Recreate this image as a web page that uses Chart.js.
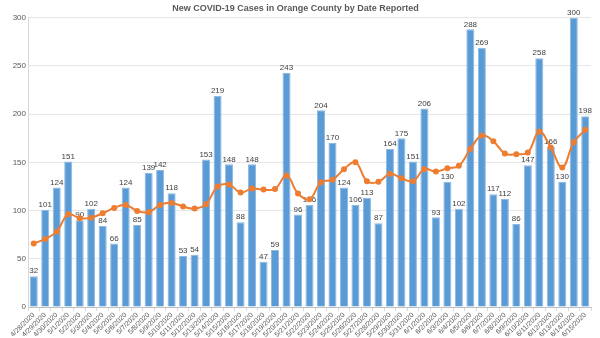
<!DOCTYPE html>
<html>
<head>
<meta charset="utf-8">
<script src="https://cdn.jsdelivr.net/npm/chart.js@4.4.1/dist/chart.umd.min.js"></script>
<style>
  html, body { margin: 0; padding: 0; background: #fff; }
</style>
</head>
<body>
<canvas id="casesChart" width="600" height="338"></canvas>
<script>
// Dates reported (x axis)
const reportDates = [
  '4/28/2020', '4/29/2020', '4/30/2020', '5/1/2020', '5/2/2020', '5/3/2020', '5/4/2020',
  '5/5/2020', '5/6/2020', '5/7/2020', '5/8/2020', '5/9/2020', '5/10/2020', '5/11/2020',
  '5/12/2020', '5/13/2020', '5/14/2020', '5/15/2020', '5/16/2020', '5/17/2020', '5/18/2020',
  '5/19/2020', '5/20/2020', '5/21/2020', '5/22/2020', '5/23/2020', '5/24/2020', '5/25/2020',
  '5/26/2020', '5/27/2020', '5/28/2020', '5/29/2020', '5/30/2020', '5/31/2020', '6/1/2020',
  '6/2/2020', '6/3/2020', '6/4/2020', '6/5/2020', '6/6/2020', '6/7/2020', '6/8/2020',
  '6/9/2020', '6/10/2020', '6/11/2020', '6/12/2020', '6/13/2020', '6/14/2020', '6/15/2020'
];

// New cases per day (bars)
const newCases = [
  32, 101, 124, 151, 90, 102, 84, 66, 124, 85, 139, 142, 118, 53,
  54, 153, 219, 148, 88, 148, 47, 59, 243, 96, 106, 204, 170, 124,
  106, 113, 87, 164, 175, 151, 206, 93, 130, 102, 288, 269, 117, 112,
  86, 147, 258, 166, 130, 300, 198
];

// Rolling average (orange line)
const rollingAvg = [
  66, 70.6, 78.2, 96.2, 92.1, 92.7, 97.3, 102.8, 105.9, 99.7, 98.3, 105.9, 108, 104.2,
  102.1, 106.6, 125, 127, 118.7, 122.9, 121.8, 122.5, 136.4, 117.7, 111.8, 129.5, 131.9, 143,
  150.2, 130.5, 129.8, 138.1, 133.6, 130.5, 143, 140.5, 144, 146.4, 164, 177.9, 172, 159.2,
  158.5, 160.2, 182, 165.4, 144.7, 171, 183.8
];

const yTicks = [0, 50, 100, 150, 200, 250, 300];

const fontFamily = '"Liberation Sans", Arial, sans-serif';

// Draw the value above each bar
const barLabels = {
  id: 'barLabels',
  afterDatasetDraw(chart, args) {
    if (args.index !== 0) return;
    const ctx = chart.ctx;
    ctx.save();
    ctx.font = '8px ' + fontFamily;
    ctx.fillStyle = '#404040';
    ctx.textAlign = 'center';
    ctx.textBaseline = 'bottom';
    args.meta.data.forEach((bar, i) => {
      ctx.fillText(newCases[i], bar.x, bar.y - 1);
    });
    ctx.restore();
  }
};

const chart = new Chart(document.getElementById('casesChart'), {
  type: 'bar',
  data: {
    labels: reportDates,
    datasets: [
      {
        type: 'bar',
        label: 'New Cases',
        data: newCases,
        backgroundColor: '#5B9BD5',
        borderColor: '#8DB9E3',
        borderWidth: 1,
        barPercentage: 0.7,
        categoryPercentage: 1,
        order: 2,
      },
      {
        type: 'line',
        label: 'Average',
        data: rollingAvg,
        borderColor: '#ED7D31',
        backgroundColor: '#ED7D31',
        borderWidth: 2,
        pointRadius: 2,
        pointHoverRadius: 2,
        tension: 0.4,
        fill: false,
        order: 1,
      },
    ],
  },
  options: {
    responsive: false,
    animation: false,
    layout: { padding: { left: 0, right: 9, top: 0, bottom: 0 } },
    plugins: {
      legend: { display: false },
      tooltip: { enabled: false },
      title: {
        display: true,
        text: 'New COVID-19 Cases in Orange County by Date Reported',
        color: '#595959',
        font: { family: fontFamily, size: 9, weight: 'bold' },
        padding: { top: 3, bottom: 4 },
      },
    },
    scales: {
      x: {
        grid: { display: true, drawOnChartArea: false, color: '#d9d9d9', tickLength: 4 },
        border: { color: '#bfbfbf' },
        ticks: {
          color: '#595959',
          font: { family: fontFamily, size: 7 },
          minRotation: 45,
          maxRotation: 45,
          autoSkip: false,
          padding: 0,
        },
        afterFit(scale) { scale.height = 31; },
      },
      y: {
        min: 0,
        max: 300,
        afterBuildTicks(scale) { scale.ticks = yTicks.map(v => ({ value: v })); },
        grid: { color: '#e6e6e6', drawTicks: false },
        border: { color: '#d9d9d9' },
        ticks: {
          color: '#595959',
          font: { family: fontFamily, size: 8 },
          padding: 2,
        },
        afterFit(scale) { scale.width = 28; },
      },
    },
  },
  plugins: [barLabels],
});
</script>
</body>
</html>
